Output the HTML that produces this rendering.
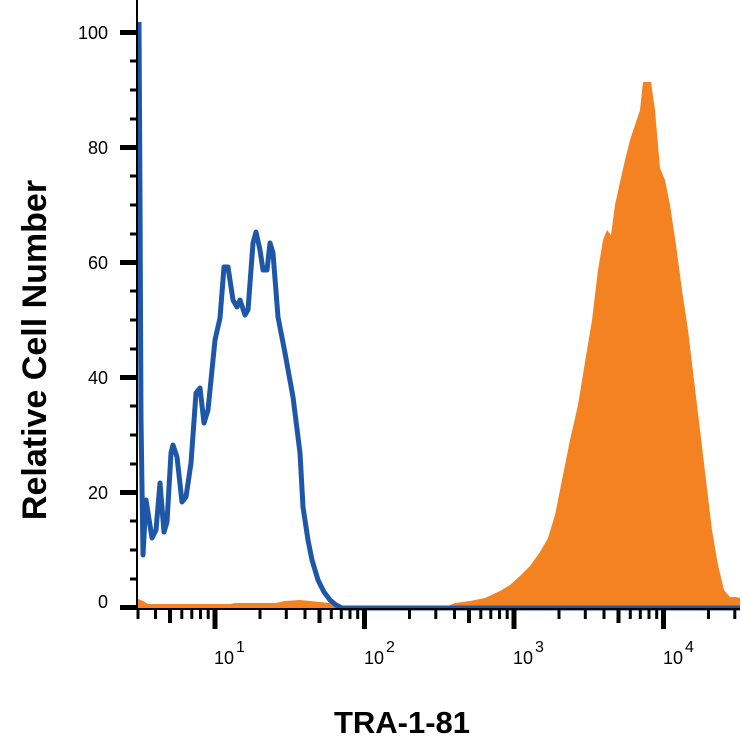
<!DOCTYPE html>
<html><head><meta charset="utf-8"><style>
html,body{margin:0;padding:0;background:#fff;}
svg text{font-family:"Liberation Sans",sans-serif;}
</style></head><body>
<svg width="742" height="746" viewBox="0 0 742 746" xmlns="http://www.w3.org/2000/svg">
<rect width="742" height="746" fill="#fff"/>
<polygon fill="#f58220" points="138,608 138,599 143,601 148,604 230,604 235,603 275,603 285,601 300,600 310,601 330,603 340,606 448,606 455,603 470,601 485,598 500,591 510,585 520,576 530,566 540,552 548,538 555,515 562,480 570,440 578,405 585,362 592,320 598,270 603,240 607,230 611,235 615,205 620,182 625,160 630,140 635,125 640,110 643,82 651,82 655,110 660,168 665,180 670,205 676,245 682,290 688,330 694,380 700,430 706,480 712,530 718,565 724,590 730,597 736,597 740,598 740,608"/>
<polyline fill="none" stroke="#1f57a8" stroke-width="5" stroke-linejoin="round" points="139,22 140,200 141,420 143,555 146,500 152,538 156,530 160,483 164,532 167,522 171,453 173,445 177,457 182,502 186,497 191,463 196,393 200,388 204,423 208,410 215,340 220,318 224,267 228,267 233,300 237,307 240,300 245,315 248,310 253,243 256,232 260,250 263,270 267,270 270,243 273,253 278,317 285,353 293,397 300,453 303,507 308,540 312,560 318,580 324,592 330,600 336,605 342,608 740,608"/>
<line x1="137" y1="0" x2="137" y2="610" stroke="#000" stroke-width="2"/>
<line x1="136" y1="609" x2="740" y2="609" stroke="#000" stroke-width="2"/>
<g fill="#000">
<rect x="120" y="30" width="17" height="5"/>
<rect x="120" y="145" width="17" height="5"/>
<rect x="120" y="260" width="17" height="5"/>
<rect x="120" y="375" width="17" height="5"/>
<rect x="120" y="490" width="17" height="5"/>
<rect x="120" y="605" width="17" height="5"/>
</g>
<g stroke="#000" stroke-width="3">
<line x1="130" x2="137" y1="61" y2="61"/><line x1="130" x2="137" y1="90" y2="90"/><line x1="130" x2="137" y1="119" y2="119"/>
<line x1="130" x2="137" y1="176" y2="176"/><line x1="130" x2="137" y1="205" y2="205"/><line x1="130" x2="137" y1="234" y2="234"/>
<line x1="130" x2="137" y1="291" y2="291"/><line x1="130" x2="137" y1="320" y2="320"/><line x1="130" x2="137" y1="349" y2="349"/>
<line x1="130" x2="137" y1="406" y2="406"/><line x1="130" x2="137" y1="435" y2="435"/><line x1="130" x2="137" y1="464" y2="464"/>
<line x1="130" x2="137" y1="521" y2="521"/><line x1="130" x2="137" y1="550" y2="550"/><line x1="130" x2="137" y1="579" y2="579"/>
</g>
<!-- major x ticks -->
<g stroke="#000" stroke-width="5">
<line x1="215" x2="215" y1="609" y2="629"/><line x1="364.5" x2="364.5" y1="609" y2="629"/>
<line x1="514" x2="514" y1="609" y2="629"/><line x1="663.5" x2="663.5" y1="609" y2="629"/>
</g>
<!-- medium (5x) -->
<g stroke="#000" stroke-width="4">
<line x1="170" x2="170" y1="609" y2="623"/><line x1="319.5" x2="319.5" y1="609" y2="623"/>
<line x1="469" x2="469" y1="609" y2="623"/><line x1="618.5" x2="618.5" y1="609" y2="623"/>
</g>
<!-- minor -->
<g stroke="#000" stroke-width="3">
<line x1="138" x2="138" y1="609" y2="619"/><line x1="155.5" x2="155.5" y1="609" y2="619"/><line x1="181.8" x2="181.8" y1="609" y2="619"/><line x1="191.8" x2="191.8" y1="609" y2="619"/><line x1="200.5" x2="200.5" y1="609" y2="619"/><line x1="208.2" x2="208.2" y1="609" y2="619"/>
<line x1="260" x2="260" y1="609" y2="619"/><line x1="286.3" x2="286.3" y1="609" y2="619"/><line x1="305" x2="305" y1="609" y2="619"/><line x1="331.3" x2="331.3" y1="609" y2="619"/><line x1="341.3" x2="341.3" y1="609" y2="619"/><line x1="350" x2="350" y1="609" y2="619"/><line x1="357.7" x2="357.7" y1="609" y2="619"/>
<line x1="409.5" x2="409.5" y1="609" y2="619"/><line x1="435.8" x2="435.8" y1="609" y2="619"/><line x1="454.5" x2="454.5" y1="609" y2="619"/><line x1="480.8" x2="480.8" y1="609" y2="619"/><line x1="490.8" x2="490.8" y1="609" y2="619"/><line x1="499.5" x2="499.5" y1="609" y2="619"/><line x1="507.2" x2="507.2" y1="609" y2="619"/>
<line x1="559" x2="559" y1="609" y2="619"/><line x1="585.3" x2="585.3" y1="609" y2="619"/><line x1="604" x2="604" y1="609" y2="619"/><line x1="630.3" x2="630.3" y1="609" y2="619"/><line x1="640.3" x2="640.3" y1="609" y2="619"/><line x1="649" x2="649" y1="609" y2="619"/><line x1="656.7" x2="656.7" y1="609" y2="619"/>
<line x1="708.5" x2="708.5" y1="609" y2="619"/><line x1="734.8" x2="734.8" y1="609" y2="619"/>
</g>
<g font-size="18" fill="#000" text-anchor="end">
<text x="108" y="39">100</text><text x="108" y="154">80</text><text x="108" y="269">60</text>
<text x="108" y="384">40</text><text x="108" y="499">20</text><text x="108" y="608">0</text>
</g>
<g font-size="18" fill="#000">
<text x="214" y="664">10</text><text x="236" y="652" font-size="16">1</text>
<text x="364" y="664">10</text><text x="386" y="652" font-size="16">2</text>
<text x="513" y="664">10</text><text x="535" y="652" font-size="16">3</text>
<text x="663" y="664">10</text><text x="685" y="652" font-size="16">4</text>
</g>
<text x="402" y="733" font-size="31" font-weight="bold" text-anchor="middle">TRA-1-81</text>
<text transform="translate(46,350) rotate(-90)" font-size="34" font-weight="bold" text-anchor="middle">Relative Cell Number</text>
</svg>
</body></html>
